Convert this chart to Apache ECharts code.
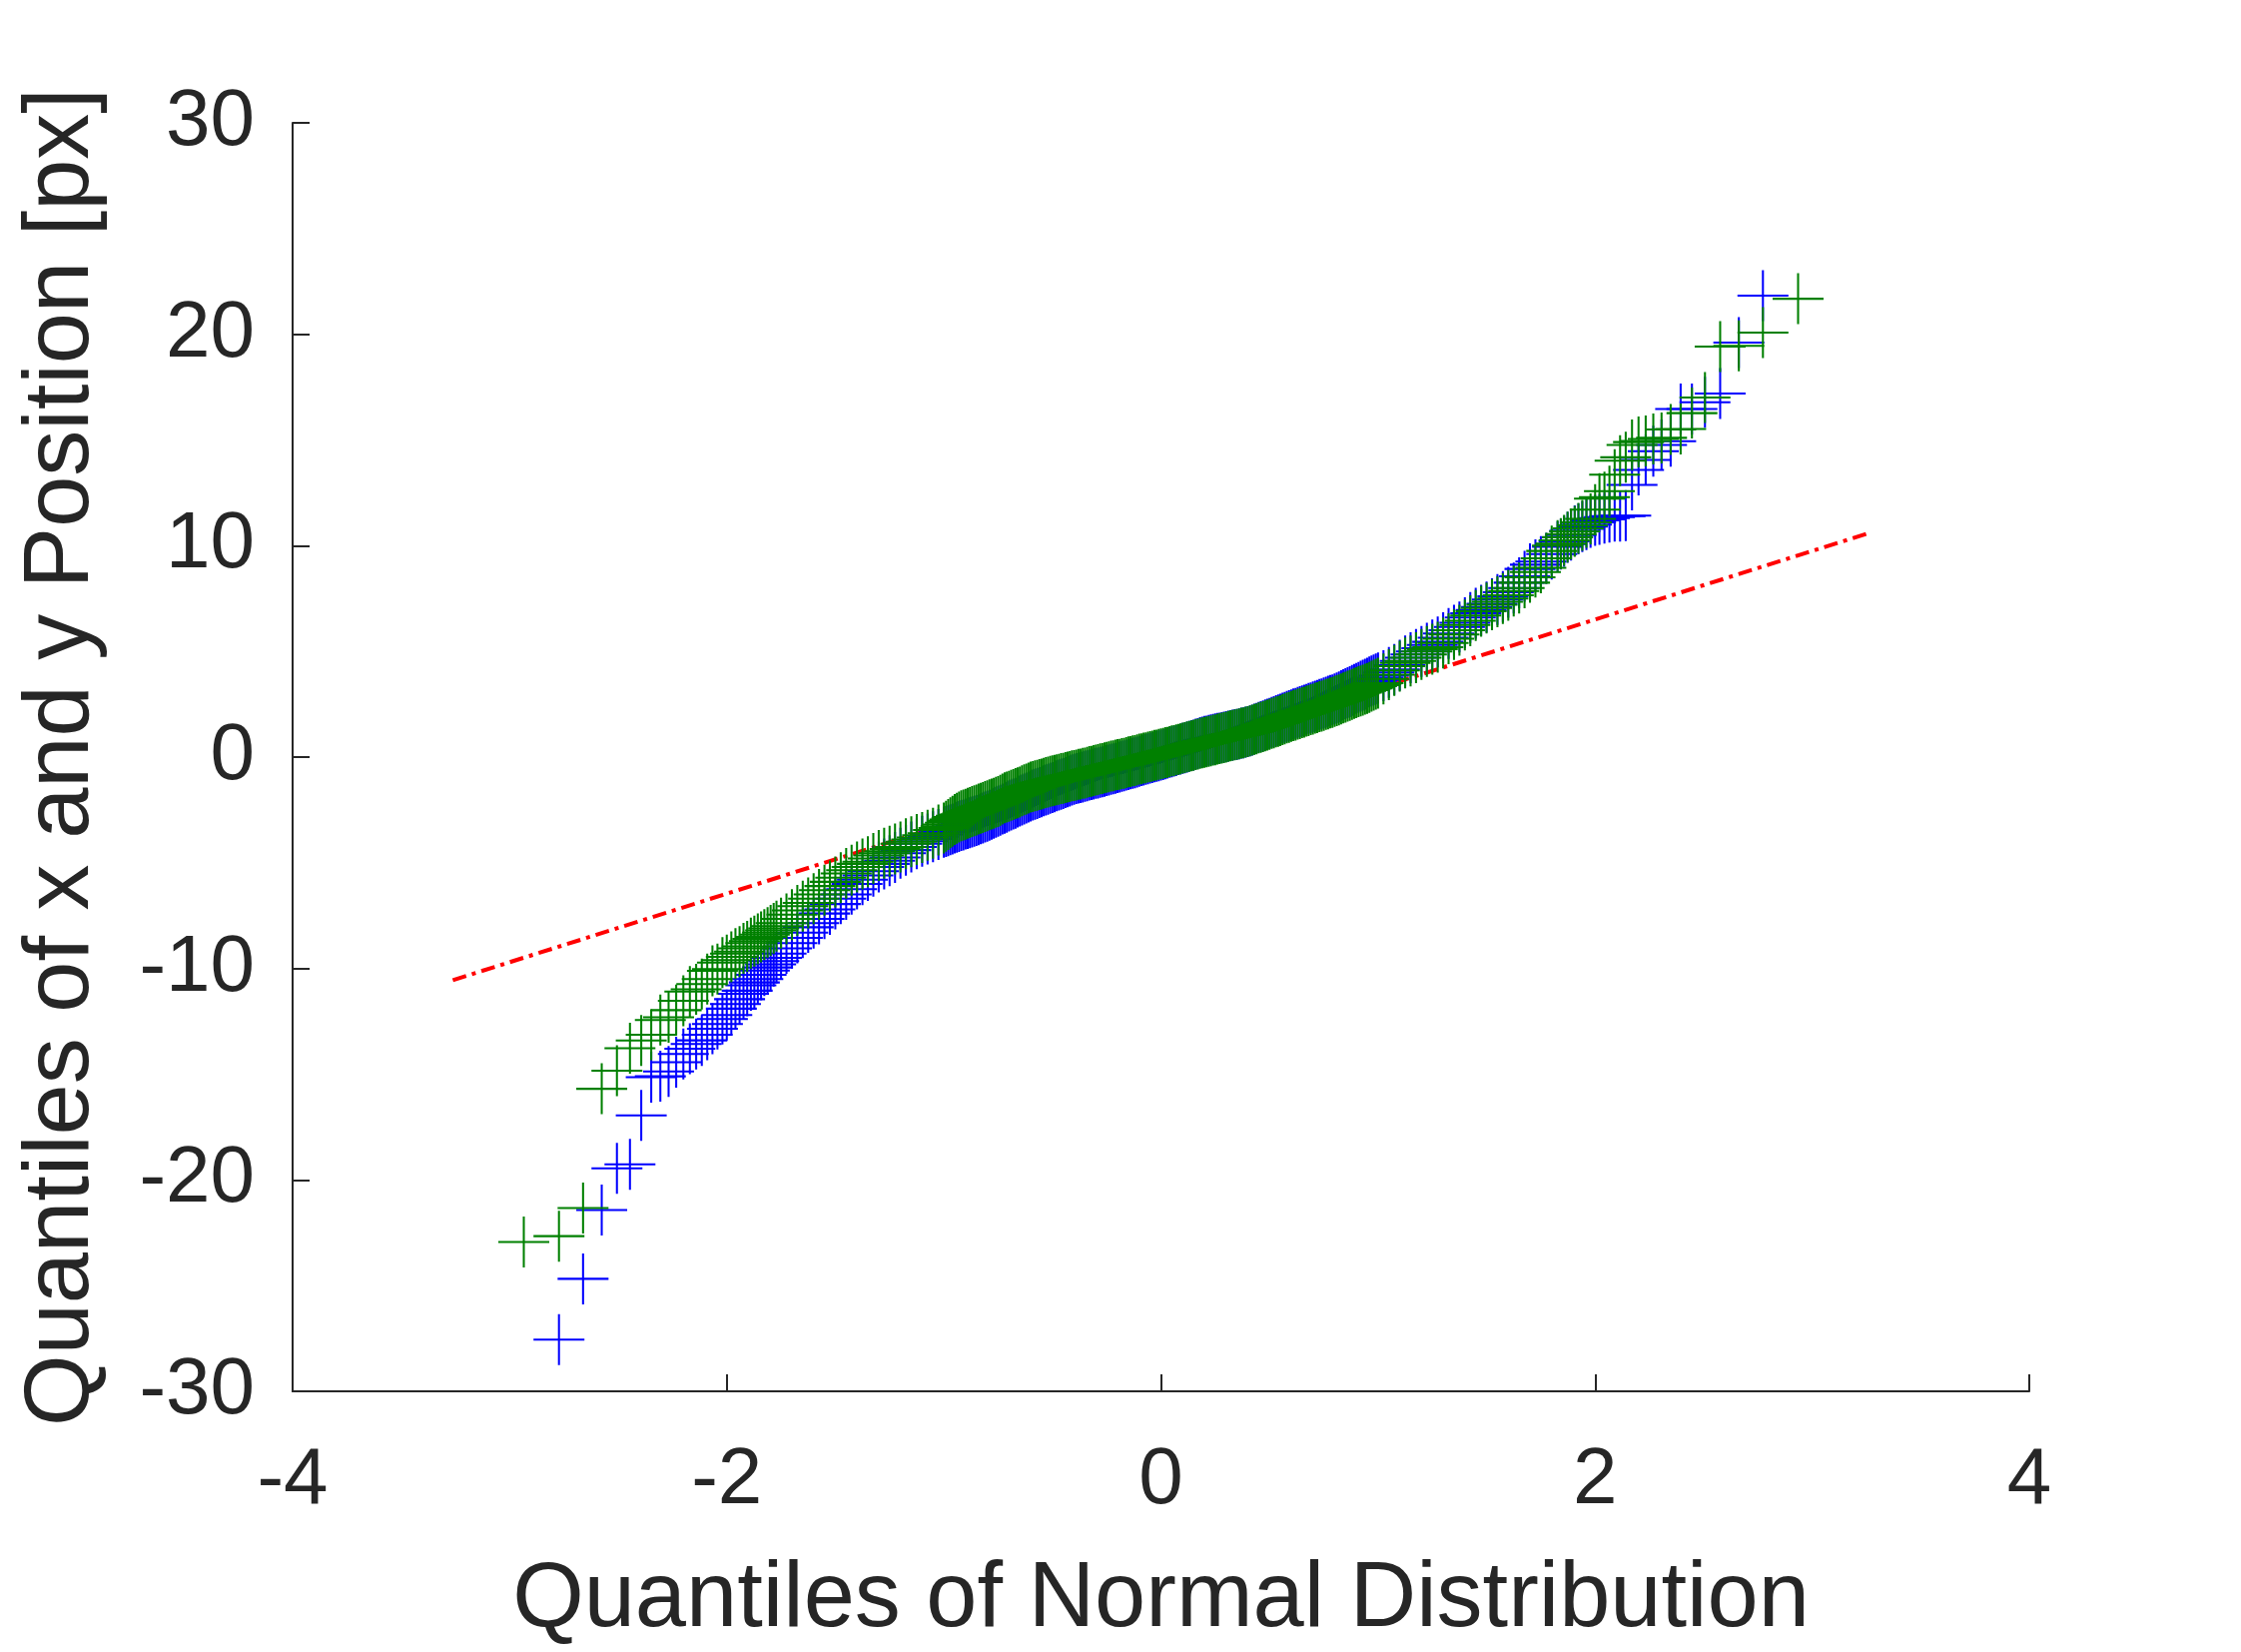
<!DOCTYPE html>
<html>
<head>
<meta charset="utf-8">
<script src="https://cdn.jsdelivr.net/npm/echarts@6/dist/echarts.min.js"></script>
<style>
html,body{margin:0;padding:0;background:#fff;}
#chart{width:2244px;height:1654px;}
</style>
</head>
<body>
<div id="chart"></div>
<script>
// Quantiles of the standard normal distribution (x positions of the markers)
const normalQuantiles = [
-2.935,-2.773,-2.662,-2.576,-2.506,-2.446,-2.394,-2.348,-2.306,-2.268,-2.233,-2.200,-2.170,-2.141,-2.115,-2.090,-2.066,-2.043,-2.020,-2.000,
-1.979,-1.960,-1.941,-1.923,-1.906,-1.889,-1.873,-1.857,-1.842,-1.827,-1.812,-1.798,-1.784,-1.771,
-1.750,-1.725,-1.700,-1.675,-1.650,-1.625,-1.600,-1.575,-1.550,-1.525,-1.500,-1.475,-1.450,-1.425,-1.400,-1.375,-1.350,-1.325,-1.300,-1.275,
-1.250,-1.225,-1.200,-1.175,-1.150,-1.125,-1.100,-1.075,-1.050,-1.025,
-1.00,-0.99,-0.98,-0.97,-0.96,-0.95,-0.94,-0.93,-0.92,-0.91,
-0.90,-0.89,-0.88,-0.87,-0.86,-0.85,-0.84,-0.83,-0.82,-0.81,
-0.80,-0.79,-0.78,-0.77,-0.76,-0.75,-0.74,-0.73,-0.72,-0.71,
-0.70,-0.69,-0.68,-0.67,-0.66,-0.65,-0.64,-0.63,-0.62,-0.61,
-0.60,-0.59,-0.58,-0.57,-0.56,-0.55,-0.54,-0.53,-0.52,-0.51,
-0.50,-0.49,-0.48,-0.47,-0.46,-0.45,-0.44,-0.43,-0.42,-0.41,
-0.40,-0.39,-0.38,-0.37,-0.36,-0.35,-0.34,-0.33,-0.32,-0.31,
-0.30,-0.29,-0.28,-0.27,-0.26,-0.25,-0.24,-0.23,-0.22,-0.21,
-0.20,-0.19,-0.18,-0.17,-0.16,-0.15,-0.14,-0.13,-0.12,-0.11,
-0.10,-0.09,-0.08,-0.07,-0.06,-0.05,-0.04,-0.03,-0.02,-0.01,
0.00,
0.01,0.02,0.03,0.04,0.05,0.06,0.07,0.08,0.09,0.10,
0.11,0.12,0.13,0.14,0.15,0.16,0.17,0.18,0.19,0.20,
0.21,0.22,0.23,0.24,0.25,0.26,0.27,0.28,0.29,0.30,
0.31,0.32,0.33,0.34,0.35,0.36,0.37,0.38,0.39,0.40,
0.41,0.42,0.43,0.44,0.45,0.46,0.47,0.48,0.49,0.50,
0.51,0.52,0.53,0.54,0.55,0.56,0.57,0.58,0.59,0.60,
0.61,0.62,0.63,0.64,0.65,0.66,0.67,0.68,0.69,0.70,
0.71,0.72,0.73,0.74,0.75,0.76,0.77,0.78,0.79,0.80,
0.81,0.82,0.83,0.84,0.85,0.86,0.87,0.88,0.89,0.90,
0.91,0.92,0.93,0.94,0.95,0.96,0.97,0.98,0.99,1.00,
1.025,1.050,1.075,1.100,1.125,1.150,1.175,1.200,1.225,1.250,1.275,1.300,1.325,1.350,1.375,1.400,1.425,1.450,1.475,1.500,
1.525,1.550,1.575,1.600,1.625,1.650,1.675,1.700,1.725,1.750,1.775,1.800,
1.827,1.842,1.857,1.873,1.889,1.906,1.923,1.941,1.960,1.979,2.000,2.020,2.043,2.066,2.090,2.115,2.141,2.170,2.200,2.233,
2.268,2.306,2.348,2.394,2.446,2.506,2.576,2.662,2.773,2.935
];

// Sorted x positions [px] (blue); null = outside the plotted range
const xPositionQuantiles = [
null,-27.56,-24.68,-21.43,-19.45,-19.26,-16.95,-15.14,-15.10,-14.87,-14.43,-14.04,-13.80,-13.57,-13.40,-13.13,-12.85,-12.63,-12.39,-12.20,
-11.90,-11.68,-11.45,-11.20,-11.05,-10.80,-10.66,-10.50,-10.30,-10.10,-9.95,-9.80,-9.65,-9.50,
-9.30,-9.05,-8.80,-8.55,-8.30,-8.05,-7.85,-7.65,-7.40,-7.20,-6.95,-6.70,-6.50,-6.25,-6.00,-5.80,-5.60,-5.40,-5.20,-5.05,
-4.90,-4.75,-4.55,-4.40,-4.25,-4.10,-3.98,-3.87,-3.77,-3.66,
-3.56,-3.52,-3.48,-3.44,-3.40,-3.36,-3.32,-3.28,-3.24,-3.21,
-3.17,-3.14,-3.11,-3.07,-3.04,-3.00,-2.96,-2.92,-2.88,-2.84,
-2.80,-2.75,-2.70,-2.66,-2.61,-2.56,-2.51,-2.46,-2.42,-2.37,
-2.32,-2.27,-2.22,-2.18,-2.13,-2.08,-2.03,-1.98,-1.94,-1.89,
-1.84,-1.80,-1.76,-1.72,-1.68,-1.64,-1.60,-1.56,-1.52,-1.48,
-1.44,-1.40,-1.36,-1.32,-1.29,-1.25,-1.21,-1.17,-1.13,-1.09,
-1.05,-1.02,-0.99,-0.97,-0.94,-0.91,-0.88,-0.85,-0.83,-0.80,
-0.77,-0.75,-0.72,-0.70,-0.67,-0.64,-0.61,-0.58,-0.56,-0.53,
-0.50,-0.47,-0.44,-0.41,-0.38,-0.35,-0.32,-0.29,-0.27,-0.24,
-0.20,-0.17,-0.14,-0.11,-0.08,-0.05,-0.02,0.01,0.03,0.06,
0.09,
0.12,0.15,0.19,0.22,0.25,0.28,0.31,0.35,0.38,0.41,
0.44,0.47,0.51,0.54,0.57,0.61,0.64,0.68,0.71,0.74,
0.76,0.79,0.81,0.84,0.86,0.88,0.90,0.92,0.95,0.97,
0.99,1.02,1.04,1.06,1.08,1.10,1.13,1.15,1.18,1.20,
1.24,1.28,1.32,1.36,1.40,1.44,1.48,1.52,1.56,1.60,
1.64,1.68,1.72,1.76,1.80,1.84,1.88,1.92,1.96,2.00,
2.04,2.07,2.11,2.15,2.19,2.22,2.26,2.30,2.33,2.37,
2.41,2.45,2.49,2.52,2.56,2.60,2.64,2.68,2.71,2.75,
2.80,2.85,2.90,2.95,3.00,3.05,3.10,3.15,3.20,3.25,
3.30,3.35,3.40,3.45,3.50,3.55,3.60,3.65,3.70,3.75,
3.85,4.00,4.15,4.35,4.55,4.70,4.85,5.00,5.15,5.30,5.45,5.65,5.85,6.00,6.15,6.35,6.60,6.80,6.95,7.10,
7.25,7.45,7.60,7.80,8.00,8.25,8.55,8.90,9.10,9.25,9.40,9.60,
9.95,10.07,10.20,10.39,10.50,10.70,10.80,10.90,11.00,11.10,11.20,11.25,11.30,11.35,11.40,11.40,11.42,12.87,13.58,14.06,
14.47,14.76,14.94,16.46,16.46,16.78,17.20,19.61,21.83,null
];

// Sorted y positions [px] (green)
const yPositionQuantiles = [
-22.94,-22.66,-21.33,-15.69,-14.83,-13.77,-13.41,-13.13,-12.44,-12.31,-11.97,-11.53,-11.09,-10.98,-10.74,-10.50,-10.11,-10.03,-9.72,-9.60,
-9.45,-9.30,-9.20,-9.05,-8.95,-8.80,-8.70,-8.60,-8.50,-8.40,-8.30,-8.20,-8.10,-8.00,
-7.85,-7.65,-7.45,-7.25,-7.05,-6.90,-6.70,-6.50,-6.30,-6.10,-5.90,-5.70,-5.50,-5.35,-5.20,-5.05,-4.95,-4.80,-4.65,-4.55,
-4.45,-4.35,-4.25,-4.10,-4.00,-3.90,-3.80,-3.70,-3.60,-3.45,
-3.35,-3.27,-3.19,-3.11,-3.03,-2.95,-2.89,-2.83,-2.78,-2.74,
-2.70,-2.66,-2.62,-2.58,-2.54,-2.50,-2.46,-2.42,-2.38,-2.34,
-2.30,-2.26,-2.22,-2.18,-2.14,-2.10,-2.04,-1.98,-1.93,-1.89,
-1.85,-1.81,-1.77,-1.73,-1.69,-1.65,-1.60,-1.55,-1.51,-1.46,
-1.42,-1.39,-1.36,-1.33,-1.30,-1.27,-1.24,-1.21,-1.18,-1.15,
-1.12,-1.10,-1.07,-1.05,-1.02,-1.00,-0.97,-0.94,-0.92,-0.89,
-0.87,-0.85,-0.82,-0.80,-0.77,-0.75,-0.72,-0.69,-0.67,-0.64,
-0.62,-0.59,-0.56,-0.54,-0.51,-0.49,-0.46,-0.43,-0.41,-0.38,
-0.36,-0.34,-0.31,-0.29,-0.26,-0.23,-0.21,-0.18,-0.16,-0.13,
-0.10,-0.08,-0.05,-0.03,0.00,0.02,0.05,0.08,0.10,0.13,
0.15,
0.18,0.21,0.23,0.26,0.29,0.31,0.34,0.37,0.39,0.42,
0.45,0.48,0.51,0.53,0.56,0.59,0.62,0.65,0.67,0.70,
0.72,0.75,0.77,0.80,0.82,0.85,0.87,0.90,0.92,0.95,
0.98,1.00,1.03,1.05,1.08,1.10,1.13,1.15,1.18,1.21,
1.24,1.27,1.31,1.34,1.38,1.41,1.44,1.48,1.51,1.55,
1.59,1.62,1.66,1.69,1.73,1.77,1.81,1.85,1.88,1.92,
1.96,1.99,2.03,2.06,2.10,2.13,2.17,2.20,2.24,2.27,
2.31,2.34,2.38,2.41,2.45,2.49,2.52,2.56,2.59,2.63,
2.67,2.71,2.75,2.80,2.84,2.88,2.92,2.96,3.01,3.05,
3.09,3.13,3.17,3.21,3.25,3.30,3.35,3.40,3.45,3.50,
3.70,3.90,4.10,4.30,4.45,4.55,4.70,4.85,5.00,5.10,5.20,5.40,5.60,5.80,6.00,6.25,6.45,6.70,6.90,7.05,
7.20,7.35,7.50,7.65,7.85,8.00,8.25,8.50,8.75,8.95,9.40,9.75,
10.00,10.10,10.25,10.40,10.55,10.68,10.82,10.96,11.10,11.27,11.70,12.22,12.30,12.58,13.36,14.02,14.18,14.76,14.90,14.95,
15.05,15.10,15.50,15.52,16.27,17.01,19.42,19.45,20.08,21.68
];

// Reference line end points
const refLineX = [-3.262, 3.262];
const refLineY = [-10.55, 10.60];

const xTicks = [-4, -2, 0, 2, 4];
const yTicks = [-30, -20, -10, 0, 10, 20, 30];

function pairs(xs, ys) {
  const out = [];
  const n = Math.min(xs.length, ys.length);
  for (let i = 0; i < n; i++) {
    if (ys[i] !== null && ys[i] !== undefined) out.push([xs[i], ys[i]]);
  }
  return out;
}

const plus = 'path://M-0.04,-1L0.04,-1L0.04,1L-0.04,1Z M-1,-0.04L1,-0.04L1,0.04L-1,0.04Z';
const FONT = '"Liberation Sans", Arial, Helvetica, sans-serif';
const TXT = '#262626';

const chart = echarts.init(document.getElementById('chart'), null, {renderer: 'canvas'});
chart.setOption({
  backgroundColor: '#ffffff',
  animation: false,
  grid: {left: 293, top: 123, right: 212, bottom: 259, containLabel: false},
  xAxis: {
    type: 'value',
    min: xTicks[0], max: xTicks[xTicks.length - 1], interval: 2,
    name: 'Quantiles of Normal Distribution',
    nameLocation: 'middle',
    nameGap: 164,
    nameTextStyle: {fontFamily: FONT, fontSize: 92, color: TXT},
    axisLine: {onZero: false, lineStyle: {color: TXT, width: 2}},
    axisTick: {inside: true, length: 17, lineStyle: {color: TXT, width: 2}},
    axisLabel: {fontFamily: FONT, fontSize: 80, color: TXT, margin: 50},
    splitLine: {show: false}
  },
  yAxis: {
    type: 'value',
    min: yTicks[0], max: yTicks[yTicks.length - 1], interval: 10,
    name: 'Quantiles of x and y Position [px]',
    nameLocation: 'middle',
    nameGap: 184,
    nameTextStyle: {fontFamily: FONT, fontSize: 92, color: TXT},
    axisLine: {onZero: false, lineStyle: {color: TXT, width: 2}},
    axisTick: {inside: true, length: 17, lineStyle: {color: TXT, width: 2}},
    axisLabel: {fontFamily: FONT, fontSize: 80, color: TXT, margin: 38},
    splitLine: {show: false}
  },
  series: [
    {
      type: 'line',
      z: 1,
      data: pairs(refLineX, refLineY),
      showSymbol: false,
      symbol: 'none',
      lineStyle: {color: '#ff0000', width: 4, type: [14, 6, 4, 6]},
      silent: true
    },
    {
      type: 'scatter',
      z: 3,
      data: pairs(normalQuantiles, xPositionQuantiles),
      symbol: plus,
      symbolSize: 51,
      large: false,
      progressive: 0,
      itemStyle: {color: '#0000ff', opacity: 1},
      silent: true
    },
    {
      type: 'scatter',
      z: 4,
      data: pairs(normalQuantiles, yPositionQuantiles),
      symbol: plus,
      symbolSize: 51,
      large: false,
      progressive: 0,
      itemStyle: {color: '#008000', opacity: 1},
      silent: true
    }
  ]
});
</script>
</body>
</html>
